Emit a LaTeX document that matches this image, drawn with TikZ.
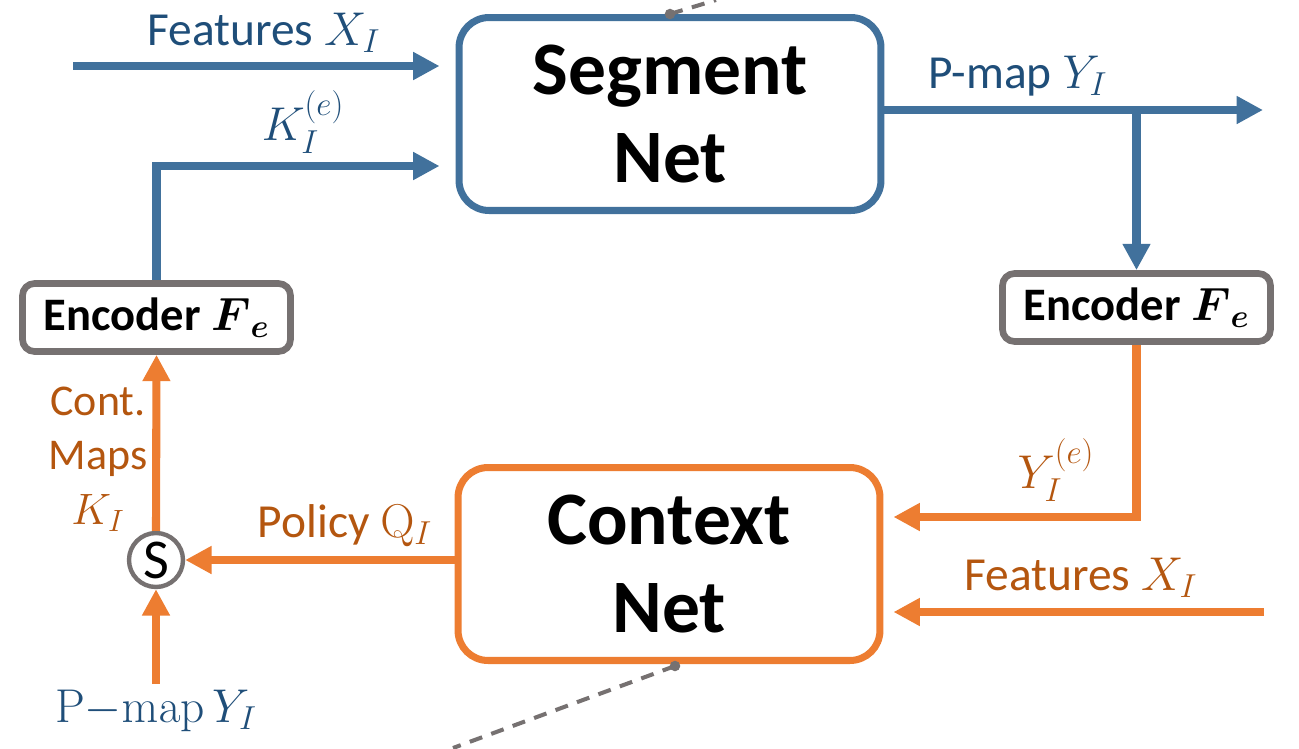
\RequirePackage{fix-cm}
\documentclass[tikz,border=0pt]{standalone}
\usepackage{amsmath}
\usepackage[no-math]{fontspec}
\setmainfont{Carlito}
\usetikzlibrary{arrows.meta,calc}
\definecolor{segblue}{HTML}{41719C}
\definecolor{segtext}{HTML}{1F4E79}
\definecolor{ctxorange}{HTML}{ED7D31}
\definecolor{ctxtext}{HTML}{B4560F}
\definecolor{encgray}{HTML}{767171}
\begin{document}
\begin{tikzpicture}[x=0.02cm,y=-0.02cm,
    netbox/.style={draw,line width=4pt,rounded corners=0.6cm,fill=white,minimum width=8.44cm,minimum height=3.86cm,align=center,font=\fontsize{43}{50}\selectfont\bfseries},
    encbox/.style={draw=encgray,line width=3.8pt,rounded corners=0.24cm,fill=white,minimum width=5.36cm,minimum height=1.36cm,font=\fontsize{26.5}{30}\selectfont\bfseries},
    lbl/.style={font=\fontsize{27}{31}\selectfont,anchor=base,inner sep=0pt},
    arr/.style={line width=4.6pt,-{Triangle[length=15pt,width=15pt]}},
    gapto/.style={shorten >=#1},
    dashline/.style={draw=encgray,line width=2.3pt,dash pattern=on 7.5pt off 5.5pt}]
  \useasboundingbox (0,0) rectangle (1299,748);
  \node[netbox,draw=segblue] (seg) at (670,114) {Segment\\Net};
  \node[netbox,draw=ctxorange] (ctx) at (669,564) {Context\\Net};
  \node[encbox] (encL) at (156.5,317.5) {Encoder $\boldsymbol{F}_{\boldsymbol{e}}$};
  \node[encbox] (encR) at (1136.5,307.5) {Encoder $\boldsymbol{F}_{\boldsymbol{e}}$};
  \node[circle,draw=encgray,line width=2.5pt,fill=white,minimum size=1.08cm,inner sep=0pt,font=\fontsize{32}{32}\selectfont] (sw) at (156,560) {S};
  \node[lbl,text=segtext] (pmapB) at (156,722) {$\mathrm{P{-}map}\,Y_I$};
  \coordinate (fxin) at (73,66);
  \coordinate (pout) at (1263,110);
  \coordinate (fxin2) at (1264,612);
  \draw[arr,segblue,gapto=0.32cm] (fxin) -- (fxin -| seg.west);
  \draw[arr,segblue,gapto=0.32cm] (encL.north) |- ($(seg.west)+(0,52)$);
  \draw[arr,segblue] ($(seg.east)+(0,-4)$) -- (pout);
  \draw[arr,segblue] (pout -| encR.north) -- (encR.north);
  \draw[arr,ctxorange,gapto=0.2cm] (encR.south) |- ($(ctx.east)+(0,-47)$);
  \draw[arr,ctxorange,gapto=0.2cm] (fxin2) -- (fxin2 -| ctx.east);
  \draw[arr,ctxorange] ($(ctx.west)+(0,-4)$) -- (sw.east);
  \draw[arr,ctxorange] (sw.north) -- (encL.south);
  \draw[arr,ctxorange] (pmapB.north) ++(0,-5) -- (sw.south);
  \node[lbl,text=segtext] (fxlab) at (264,45) {Features $X_I$};
  \node[lbl,text=segtext] (klab) at (303,140) {$K_I^{(e)}$};
  \node[lbl,text=segtext] (plab) at (1018,88) {P-map $Y_I$};
  \node[lbl,text=ctxtext] (yelab) at (1056,488) {$Y_I^{(e)}$};
  \node[lbl,text=ctxtext] (fxlab2) at (1081,590) {Features $X_I$};
  \node[lbl,text=ctxtext] (qlab) at (345,537) {Policy $\mathrm{Q}_I$};
  \node[text=ctxtext,align=center,inner sep=0pt,font=\fontsize{25}{31}\selectfont] (klab2) at (98,459) {Cont.\\Maps\\$K_I$};
  % dashed leaders
  \coordinate (cdot) at ($(ctx.south)+(6,2)$);
  \draw[dashline] (seg.north) -- (716,0);
  \draw[dashline] (cdot) -- (453,748);
  \fill[encgray] (seg.north) circle[radius=3pt];
  \fill[encgray] (cdot) circle[radius=3pt];
\end{tikzpicture}
\end{document}
